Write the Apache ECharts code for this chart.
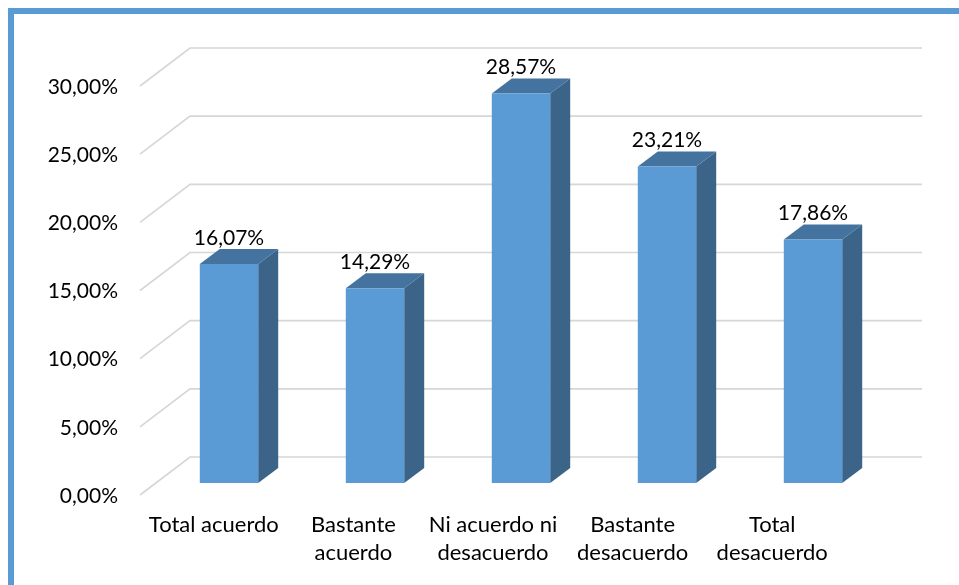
<!DOCTYPE html>
<html>
<head>
<meta charset="utf-8">
<script src="https://cdn.jsdelivr.net/npm/echarts@6/dist/echarts.min.js"></script>
<style>
  html, body { margin: 0; padding: 0; background: #ffffff; }
  #chart { width: 959px; height: 585px; }
</style>
</head>
<body>
<div id="chart"></div>
<script>
// Survey answers and their shares (percent)
const categories = ['Total acuerdo', 'Bastante\nacuerdo', 'Ni acuerdo ni\ndesacuerdo', 'Bastante\ndesacuerdo', 'Total\ndesacuerdo'];
const values = [16.07, 14.29, 28.57, 23.21, 17.86];
const tickValues = [0, 5, 10, 15, 20, 25, 30];
const tickLabels = ['0,00%', '5,00%', '10,00%', '15,00%', '20,00%', '25,00%', '30,00%'];

const FONT = 'Lato';
const TEXT_COLOR = '#000000';
// pseudo-3D depth: floor/wall offsets relative to the bar plane
const FRONT = [-16, 12];
const BACK = [34, -26];
const DEPTH = [20, -15];

function fmtPct(v) { return v.toFixed(2).replace('.', ',') + '%'; }

const chart = echarts.init(document.getElementById('chart'), null, { renderer: 'canvas' });

const option = {
  backgroundColor: '#ffffff',
  animation: false,
  graphic: [{
    type: 'rect',
    shape: { x: 11, y: 11, width: 1000, height: 1000 },
    style: { fill: 'none', stroke: '#5B9BD5', lineWidth: 6 },
    silent: true
  }],
  grid: [
    { left: 156, width: 730, top: 74, height: 409 },
    { left: 144, width: 698, top: 400, height: 103 }
  ],
  xAxis: [
    { type: 'category', gridIndex: 0, data: categories, show: false },
    {
      type: 'category', gridIndex: 1, data: categories,
      axisLine: { show: false }, axisTick: { show: false }, splitLine: { show: false },
      axisLabel: {
        interval: 0, margin: 8, fontFamily: FONT, fontSize: 22, color: TEXT_COLOR,
        lineHeight: 28, verticalAlign: 'top', align: 'center'
      }
    }
  ],
  yAxis: [
    { type: 'value', gridIndex: 0, min: 0, max: 30, interval: 5, show: false },
    { type: 'value', gridIndex: 1, show: false }
  ],
  series: [
    {
      // back wall and floor gridlines with their value labels
      type: 'custom',
      xAxisIndex: 0, yAxisIndex: 0,
      z: 1,
      data: tickValues.map((v, i) => [0, v, i]),
      renderItem: function (params, api) {
        const cs = params.coordSys;
        const v = api.value(1);
        const idx = api.value(2);
        const y = api.coord([0, v])[1];
        const x0 = cs.x, x1 = cs.x + cs.width;
        return {
          type: 'group',
          children: [
            {
              type: 'polyline',
              shape: { points: [[x0 + FRONT[0], y + FRONT[1]], [x0 + BACK[0], y + BACK[1]], [x1 + BACK[0] + 2, y + BACK[1]]] },
              style: { stroke: '#D6D6D6', lineWidth: 1.6, fill: null }
            },
            {
              type: 'text',
              style: {
                x: 118, y: y + FRONT[1] + 1, text: tickLabels[idx],
                fontFamily: FONT, fontSize: 21, fill: TEXT_COLOR,
                align: 'right', verticalAlign: 'middle'
              }
            }
          ]
        };
      }
    },
    {
      // 3D-looking columns: front face, side face, top face, value label
      type: 'custom',
      xAxisIndex: 0, yAxisIndex: 0,
      z: 2,
      data: values.map((v, i) => [i, v]),
      renderItem: function (params, api) {
        const i = api.value(0);
        const v = api.value(1);
        const top = api.coord([i, v]);
        const base = api.coord([i, 0]);
        const half = api.size([1, 0])[0] * 0.2;
        const xl = top[0] - half, xr = top[0] + half;
        const yt = top[1], yb = base[1];
        const dx = DEPTH[0], dy = DEPTH[1];
        return {
          type: 'group',
          children: [
            {
              type: 'polygon',
              shape: { points: [[xr, yt], [xr + dx, yt + dy], [xr + dx, yb + dy], [xr, yb]] },
              style: { fill: '#3B6488' }
            },
            {
              type: 'polygon',
              shape: { points: [[xl, yt], [xl + dx, yt + dy], [xr + dx, yt + dy], [xr, yt]] },
              style: { fill: '#44739F' }
            },
            {
              type: 'rect',
              shape: { x: xl, y: yt, width: xr - xl, height: yb - yt },
              style: { fill: '#5B9BD5' }
            },
            {
              type: 'text',
              style: {
                x: top[0], y: yt - 26, text: fmtPct(v),
                fontFamily: FONT, fontSize: 21, fill: TEXT_COLOR,
                align: 'center', verticalAlign: 'middle'
              }
            }
          ]
        };
      }
    }
  ]
};

chart.setOption(option);
</script>
</body>
</html>
